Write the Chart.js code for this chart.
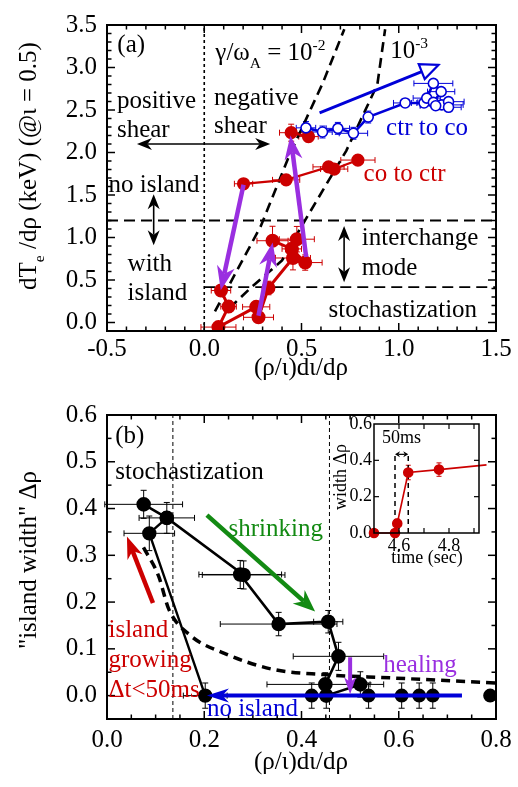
<!DOCTYPE html>
<html><head><meta charset="utf-8">
<script src="https://cdn.jsdelivr.net/npm/chart.js@4.4.1/dist/chart.umd.min.js"></script>
<style>
html,body{margin:0;padding:0;background:#ffffff;overflow:hidden;}
#wrap{position:relative;width:518px;height:787px;background:#fff;}
#wrap canvas{position:absolute;}
</style></head><body>
<div id="wrap">
<canvas id="chartA" style="left:0px;top:0px;width:518px;height:390px" width="518" height="390"></canvas>
<canvas id="chartB" style="left:0px;top:390px;width:518px;height:397px" width="518" height="397"></canvas>
<canvas id="chartInset" style="left:320px;top:400px;width:175px;height:170px" width="175" height="170"></canvas>
</div>
<script>
// ================= DATA =================
// Panel (a): points are [x, y, xErr, yErr]
const aCoToCtrNoIsland = [[0.202,1.632,0.047,0.04],[0.421,1.678,0.07,0.04],[0.639,1.831,0.08,0.04],[0.668,1.805,0.07,0.04],[0.79,1.911,0.088,0.04]];
const aCoToCtrTop = [[0.447,2.233,0.06,0.1],[0.536,2.187,0.05,0.06]];
const aCoToCtrIsland = [[0.086,0.376,0.05,0.05],[0.125,0.187,0.04,0.07],[0.073,-0.054,0.09,0.03],[0.267,0.184,0.07,0.03],[0.279,0.061,0.077,0.06],[0.33,0.406,0.02,0.08],[0.456,0.759,0.09,0.14],[0.519,0.705,0.087,0.09],[0.45,0.866,0.05,0.1],[0.351,0.962,0.08,0.17]];
const aCoToCtrBranch = [[0.45,0.866,0,0],[0.476,0.98,0.09,0.15]];
const aCtrToCo = [[0.523,2.29,0.05,0.075],[0.608,2.241,0.05,0.07],[0.687,2.284,0.06,0.07],[0.767,2.226,0.073,0.07],[0.843,2.417,0.02,0.07],[1.033,2.583,0.06,0.03],[1.13,2.583,0.065,0.03],[1.144,2.64,0.07,0.04],[1.178,2.813,0.1,0.04],[1.218,2.716,0.07,0.04],[1.178,2.59,0.08,0.04],[1.221,2.56,0.11,0.03],[1.256,2.598,0.08,0.03],[1.256,2.532,0.065,0.03],[1.19,2.55,0.08,0.03]];
const aGrowthRate1e2 = [[0.055,0.13],[0.29,1.13],[0.44,1.98],[0.61,2.82],[0.72,3.45]];
const aGrowthRate1e3 = [[0.13,0.17],[0.24,0.41],[0.4,0.73],[0.51,1.17],[0.73,2.02],[0.81,2.41],[0.89,2.8],[0.93,3.45]];
const aShearZero = [[0,-0.1],[0,3.5]];
const aIslandBoundary = [[-0.5,1.2],[1.5,1.2]];
const aStochBoundary = [[0,0.417],[1.5,0.417]];
const aXTicks = [-0.5,0,0.5,1.0,1.5];
const aYTicks = [0,0.5,1.0,1.5,2.0,2.5,3.0,3.5];

// Panel (b): points are [x, width, xErr, yErr]
const bGrowthPath = [[0.202,0,0.045,0.027],[0.087,0.347,0.052,0.037],[0.123,0.38,0.057,0.033]];
const bShrinkPath = [[0.0754,0.409,0.08,0.03],[0.123,0.38,0,0],[0.281,0.258,0.085,0.03],[0.274,0.259,0.085,0.03],[0.353,0.153,0.12,0.025],[0.455,0.158,0.03,0.024],[0.476,0.084,0.093,0.03],[0.449,0.024,0.12,0.025],[0.451,0,0,0.027],[0.521,0.024,0.02,0.027]];
const bNoIsland = [[0.421,0,0,0.027],[0.538,0,0,0.027],[0.606,0,0,0.027],[0.642,0,0,0.027],[0.67,0,0,0.027],[0.788,0,0,0]];
const bThreshold = [[0.075,0.317],[0.106,0.256],[0.127,0.185],[0.171,0.129],[0.24,0.091],[0.342,0.056],[0.445,0.045],[0.582,0.038],[0.8,0.027]];
const bStochEdge = [[0.1355,-0.05],[0.1355,0.6]];
const bShearEdge = [[0.4575,-0.05],[0.4575,0.6]];
const bXTicks = [0,0.2,0.4,0.6,0.8];
const bYTicks = [0,0.1,0.2,0.3,0.4,0.5,0.6];

// Inset: [time (s), width, 0, yErr]
const insetWidth = [[4.5,0,0,0],[4.584,0,0,0],[4.593,0.052,0,0.025],[4.637,0.333,0,0.04],[4.76,0.349,0,0.037],[4.95,0.375,0,0]];
const insetMark1 = [[4.584,0],[4.584,0.433]];
const insetMark2 = [[4.637,0],[4.637,0.433]];
const insetXTicks = [4.6,4.8];
const insetYTicks = [0,0.2,0.4,0.6];

// ================= STYLE / HELPERS =================
const SERIF = "'Liberation Serif','DejaVu Serif',serif";
const RED = '#cc0000', BLUE = '#0000d8', PURPLE = '#9a2fe0', GREEN = '#138a13';
Chart.defaults.font.family = SERIF;

function ds(points, style) {
  return Object.assign({
    data: points.map(p => ({x:p[0], y:p[1], ex:p[2]||0, ey:p[3]||0})),
    showLine:true, fill:false, tension:0, pointRadius:0, pointHoverRadius:0,
    borderWidth:2, borderColor:'#000', spanGaps:false
  }, style);
}
function axis(min, max, ticks, size, pad, fitFn) {
  return {
    type:'linear', min, max,
    grid:{display:false, drawTicks:false}, border:{display:false},
    ticks:{font:{family:SERIF, size}, color:'#000', padding:pad, autoSkip:false, maxRotation:0,
      callback: v => Number(v).toFixed(1)},
    afterBuildTicks: s => { s.ticks = ticks.map(v => ({value:v})); },
    afterFit: fitFn
  };
}
function drawRich(ctx, parts, x, y, size, align, color) {
  let total = 0;
  const seg = parts.map(p => {
    const s = (p.sub || p.sup) ? size*0.62 : size;
    ctx.font = s + 'px ' + SERIF;
    const w = ctx.measureText(p.t).width;
    total += w;
    return {p, s, w};
  });
  let cx = align === 'center' ? x - total/2 : (align === 'right' ? x - total : x);
  ctx.textAlign = 'left'; ctx.textBaseline = 'alphabetic';
  const base = y + size*0.28;
  seg.forEach(({p, s, w}) => {
    ctx.font = s + 'px ' + SERIF;
    let dy = 0;
    if (p.sub) dy = size*0.3;
    if (p.sup) dy = -size*0.4;
    ctx.fillStyle = p.color || color;
    ctx.fillText(p.t, cx, base + dy);
    cx += w;
  });
}
function arrowHead(ctx, tx, ty, ang, len, hw, notch, open, color) {
  ctx.save(); ctx.translate(tx, ty); ctx.rotate(ang);
  ctx.beginPath();
  ctx.moveTo(0, 0); ctx.lineTo(-len, -hw); ctx.lineTo(-len*(1-notch), 0); ctx.lineTo(-len, hw); ctx.closePath();
  if (open) { ctx.lineWidth = 2.2; ctx.strokeStyle = color; ctx.lineJoin='miter'; ctx.stroke(); }
  else { ctx.fillStyle = color; ctx.fill(); }
  ctx.restore();
}
function drawArrow(ctx, x1, y1, x2, y2, a) {
  const color = a.color || '#000', head = a.head || 14, hw = a.hw || 6;
  const notch = a.notch === undefined ? 0.3 : a.notch;
  const ang = Math.atan2(y2 - y1, x2 - x1);
  const back = a.open ? head : head*(1 - notch);
  const c = Math.cos(ang), s = Math.sin(ang);
  ctx.save();
  ctx.strokeStyle = color; ctx.lineWidth = a.width || 2; ctx.lineCap = 'butt';
  ctx.beginPath();
  ctx.moveTo(a.both ? x1 + c*back : x1, a.both ? y1 + s*back : y1);
  ctx.lineTo(x2 - c*back, y2 - s*back);
  ctx.stroke();
  arrowHead(ctx, x2, y2, ang, head, hw, notch, a.open, color);
  if (a.both) arrowHead(ctx, x1, y1, ang + Math.PI, head, hw, notch, a.open, color);
  ctx.restore();
}

const errorBars = {
  id: 'errorBars',
  beforeDatasetsDraw(chart) {
    const ctx = chart.ctx, xs = chart.scales.x, ys = chart.scales.y;
    ctx.save();
    chart.data.datasets.forEach(d => {
      if (!d.errColor) return;
      ctx.strokeStyle = d.errColor; ctx.lineWidth = d.errWidth || 1;
      const cap = d.errCap || 3;
      const seg = (a, b, c, e) => { ctx.beginPath(); ctx.moveTo(a, b); ctx.lineTo(c, e); ctx.stroke(); };
      d.data.forEach(p => {
        const px = xs.getPixelForValue(p.x), py = ys.getPixelForValue(p.y);
        if (p.ex) {
          const l = xs.getPixelForValue(p.x - p.ex), r = xs.getPixelForValue(p.x + p.ex);
          seg(l, py, r, py); seg(l, py - cap, l, py + cap); seg(r, py - cap, r, py + cap);
        }
        if (p.ey) {
          const t = ys.getPixelForValue(p.y + p.ey), b = ys.getPixelForValue(p.y - p.ey);
          seg(px, t, px, b); seg(px - cap, t, px + cap, t); seg(px - cap, b, px + cap, b);
        }
      });
    });
    ctx.restore();
  }
};

function makeDecor(cfg) {
  return {
    id: 'decor',
    afterDatasetsDraw(chart) {
      const ctx = chart.ctx, xs = chart.scales.x, ys = chart.scales.y, ca = chart.chartArea;
      const X = v => xs.getPixelForValue(v), Y = v => ys.getPixelForValue(v);
      ctx.save();
      // frame with inward ticks
      const f = cfg.frame;
      ctx.strokeStyle = '#000'; ctx.lineWidth = f.lw;
      ctx.strokeRect(ca.left, ca.top, ca.right - ca.left, ca.bottom - ca.top);
      ctx.lineWidth = f.tw;
      const isMajor = (v, arr) => arr.some(m => Math.abs(m - v) < 1e-6);
      const line = (a, b, c, e) => { ctx.beginPath(); ctx.moveTo(a, b); ctx.lineTo(c, e); ctx.stroke(); };
      for (let n = Math.ceil(xs.min / f.xStep - 1e-6); n * f.xStep <= xs.max + 1e-6; n++) {
        const v = n * f.xStep, px = X(v);
        if (px <= ca.left + 0.5 || px >= ca.right - 0.5) continue;
        const L = isMajor(v, f.xMajor) ? f.major : f.minor;
        line(px, ca.bottom, px, ca.bottom - L); line(px, ca.top, px, ca.top + L);
      }
      for (let n = Math.ceil(ys.min / f.yStep - 1e-6); n * f.yStep <= ys.max + 1e-6; n++) {
        const v = n * f.yStep, py = Y(v);
        if (py <= ca.top + 0.5 || py >= ca.bottom - 0.5) continue;
        const L = isMajor(v, f.yMajor) ? f.major : f.minor;
        line(ca.left, py, ca.left + L, py); line(ca.right, py, ca.right - L, py);
      }
      // arrows (data coordinates)
      (cfg.arrows || []).forEach(a => drawArrow(ctx, X(a.from[0]), Y(a.from[1]), X(a.to[0]), Y(a.to[1]), a));
      // labels (data coordinates)
      (cfg.texts || []).forEach(t => drawRich(ctx, t.rich || [{t: t.t}], X(t.x), Y(t.y), t.size || cfg.fontSize, t.align || 'left', t.color || '#000'));
      // axis titles (canvas pixel layout)
      (cfg.titles || []).forEach(t => {
        ctx.save(); ctx.translate(t.cx, t.cy);
        if (t.rot) ctx.rotate(-Math.PI / 2);
        drawRich(ctx, t.rich, 0, 0, t.size || cfg.fontSize, 'center', '#000');
        ctx.restore();
      });
      ctx.restore();
    }
  };
}

const baseOpts = (pad) => ({
  responsive:false, animation:false, events:[],
  layout:{padding:pad},
  plugins:{legend:{display:false}, tooltip:{enabled:false}}
});

// ================= PANEL (a) =================
const dsA = [
  ds(aGrowthRate1e2, {borderWidth:2.6, borderDash:[10,6], order:10}),
  ds(aGrowthRate1e3, {borderWidth:2.6, borderDash:[10,6], order:10}),
  ds(aShearZero, {borderWidth:1.6, borderDash:[3,3], order:10}),
  ds(aIslandBoundary, {borderWidth:1.8, borderDash:[11,6], order:10}),
  ds(aStochBoundary, {borderWidth:1.8, borderDash:[11,6], order:10}),
  ds(aCoToCtrNoIsland, {borderColor:RED, borderWidth:2.2, pointRadius:5.5, pointBackgroundColor:RED, pointBorderColor:RED, errColor:RED, order:3}),
  ds(aCoToCtrTop, {borderColor:RED, borderWidth:2.2, pointRadius:5.5, pointBackgroundColor:RED, pointBorderColor:RED, errColor:RED, order:3}),
  ds(aCoToCtrIsland, {borderColor:RED, borderWidth:3, pointRadius:5.5, pointBackgroundColor:RED, pointBorderColor:RED, errColor:RED, order:3}),
  ds(aCoToCtrBranch, {borderColor:RED, borderWidth:3, pointRadius:5.5, pointBackgroundColor:RED, pointBorderColor:RED, errColor:RED, order:3}),
  ds(aCtrToCo, {borderColor:BLUE, borderWidth:2.6, pointRadius:5, pointBackgroundColor:'#fff', pointBorderColor:BLUE, pointBorderWidth:1.6, errColor:BLUE, order:1})
];
const cfgA = {
  fontSize:25,
  frame:{lw:2, tw:1.5, major:8, minor:4.5, xStep:0.1, yStep:0.1, xMajor:aXTicks, yMajor:aYTicks},
  arrows:[
    {from:[-0.346,2.1], to:[0.339,2.1], both:true, width:1.6, head:15, hw:6},
    {from:[-0.26,1.51], to:[-0.26,0.91], both:true, width:1.6, head:15, hw:6},
    {from:[0.719,1.134], to:[0.719,0.475], both:true, width:1.6, head:15, hw:6},
    {from:[0.202,1.62], to:[0.085,0.38], color:PURPLE, width:4.5, head:24, hw:9},
    {from:[0.279,0.08], to:[0.352,0.94], color:PURPLE, width:4.5, head:24, hw:9},
    {from:[0.524,0.77], to:[0.443,2.2], color:PURPLE, width:4.5, head:24, hw:9},
    {from:[0.593,2.467], to:[1.204,3.03], color:BLUE, width:3, head:18, hw:8, open:true, notch:0}
  ],
  texts:[
    {t:'(a)', x:-0.447, y:3.27},
    {rich:[{t:'γ/ω'},{t:'A',sub:true},{t:' = 10'},{t:'-2',sup:true}], x:0.057, y:3.165},
    {rich:[{t:'10'},{t:'-3',sup:true}], x:0.956, y:3.195},
    {t:'positive', x:-0.449, y:2.61}, {t:'shear', x:-0.449, y:2.27},
    {t:'negative', x:0.05, y:2.638}, {t:'shear', x:0.05, y:2.31},
    {t:'no island', x:-0.492, y:1.62},
    {t:'with', x:-0.394, y:0.684}, {t:'island', x:-0.394, y:0.348},
    {t:'interchange', x:0.81, y:0.99}, {t:'mode', x:0.81, y:0.646},
    {t:'stochastization', x:0.639, y:0.149},
    {t:'ctr to co', x:0.935, y:2.293, color:BLUE},
    {t:'co to ctr', x:0.819, y:1.747, color:RED}
  ],
  titles:[
    {cx:301, cy:368, rich:[{t:'(ρ/ι)dι/dρ'}]},
    {cx:29, cy:166, rot:true, rich:[{t:'dT'},{t:'e',sub:true},{t:' /dρ (keV) (@ι = 0.5)'}]}
  ]
};
new Chart(document.getElementById('chartA'), {
  type:'scatter',
  data:{datasets:dsA},
  options:Object.assign(baseOpts({left:0, top:17, right:22, bottom:0}), {
    scales:{
      x: axis(-0.5, 1.5, aXTicks, 25, 3, s => { s.height = 59; }),
      y: axis(-0.1, 3.5, aYTicks, 25, 10, s => { s.width = 107; })
    }
  }),
  plugins:[errorBars, makeDecor(cfgA)]
});

// ================= PANEL (b) =================
const dsB = [
  ds(bStochEdge, {borderWidth:1, borderDash:[4,3], order:10}),
  ds(bShearEdge, {borderWidth:1, borderDash:[4,3], order:10}),
  ds(bThreshold, {borderWidth:3.5, borderDash:[9,6], tension:0.4, cubicInterpolationMode:'monotone', order:9}),
  ds(bGrowthPath, {borderWidth:2.4, pointRadius:6, pointBackgroundColor:'#000', pointBorderColor:'#000', errColor:'#000', order:2}),
  ds(bShrinkPath, {borderWidth:2.6, pointRadius:6, pointBackgroundColor:'#000', pointBorderColor:'#000', errColor:'#000', order:2}),
  ds(bNoIsland, {showLine:false, pointRadius:6, pointBackgroundColor:'#000', pointBorderColor:'#000', errColor:'#000', order:2})
];
const cfgB = {
  fontSize:25,
  frame:{lw:2, tw:1.5, major:8, minor:4.5, xStep:0.05, yStep:0.05, xMajor:bXTicks, yMajor:bYTicks},
  arrows:[
    {from:[0.2055,0.386], to:[0.428,0.18], color:GREEN, width:4.5, head:22, hw:9},
    {from:[0.0945,0.198], to:[0.041,0.34], color:RED, width:4.5, head:22, hw:8},
    {from:[0.73,0], to:[0.2055,0], color:BLUE, width:4, head:22, hw:7},
    {from:[0.5,0.082], to:[0.5,0.003], color:PURPLE, width:4, head:17, hw:6}
  ],
  texts:[
    {t:'(b)', x:0.017, y:0.556},
    {t:'stochastization', x:0.017, y:0.479},
    {t:'shrinking', x:0.25, y:0.356, color:GREEN},
    {t:'healing', x:0.568, y:0.065, color:PURPLE},
    {t:'no island', x:0.2055, y:-0.028, color:BLUE},
    {t:'island', x:0.003, y:0.141, color:RED},
    {t:'growing', x:0.003, y:0.076, color:RED},
    {t:'Δt<50ms', x:0.003, y:0.011, color:RED}
  ],
  titles:[
    {cx:301, cy:372, rich:[{t:'(ρ/ι)dι/dρ'}]},
    {cx:29, cy:170, rot:true, rich:[{t:'"island width" Δρ'}]}
  ]
};
new Chart(document.getElementById('chartB'), {
  type:'scatter',
  data:{datasets:dsB},
  options:Object.assign(baseOpts({left:0, top:19, right:22, bottom:0}), {
    scales:{
      x: axis(0, 0.8, bXTicks, 25, 6, s => { s.height = 68; }),
      y: axis(-0.05, 0.6, bYTicks, 25, 10, s => { s.width = 107; })
    }
  }),
  plugins:[errorBars, makeDecor(cfgB)]
});

// ================= INSET =================
const dsI = [
  ds(insetMark1, {borderWidth:1.5, borderDash:[5,4], order:10}),
  ds(insetMark2, {borderWidth:1.5, borderDash:[5,4], order:10}),
  ds(insetWidth, {borderColor:RED, borderWidth:1.6, pointRadius:4.5, pointBackgroundColor:RED, pointBorderColor:RED, errColor:RED, errCap:2.5, clip:false, order:1})
];
const cfgI = {
  fontSize:18,
  frame:{lw:1.5, tw:1.2, major:5, minor:5, xStep:0.1, yStep:0.2, xMajor:insetXTicks, yMajor:insetYTicks},
  arrows:[
    {from:[4.584,0.433], to:[4.637,0.433], both:true, width:1.2, head:5, hw:3}
  ],
  texts:[
    {t:'50ms', x:4.61, y:0.523, align:'center', size:18}
  ],
  titles:[
    {cx:107, cy:158, rich:[{t:'time (sec)'}]},
    {cx:21, cy:77, rot:true, rich:[{t:'width Δρ'}]}
  ]
};
new Chart(document.getElementById('chartInset'), {
  type:'scatter',
  data:{datasets:dsI},
  options:Object.assign(baseOpts({left:0, top:24, right:16, bottom:0}), {
    scales:{
      x: axis(4.5, 4.92, insetXTicks, 18, 2, s => { s.height = 37; }),
      y: axis(0, 0.6, insetYTicks, 18, 2, s => { s.width = 54; })
    }
  }),
  plugins:[errorBars, makeDecor(cfgI)]
});
</script>
</body></html>
